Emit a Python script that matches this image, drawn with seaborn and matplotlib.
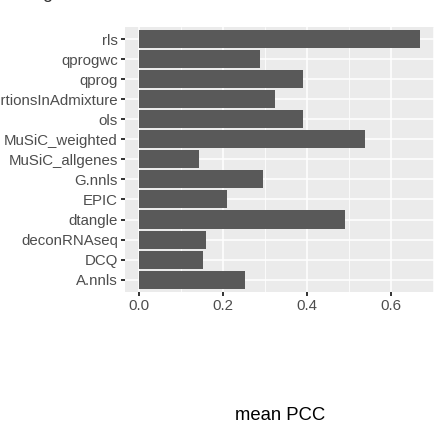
import matplotlib
matplotlib.use("Agg")
import matplotlib.pyplot as plt
import seaborn as sns
import pandas as pd
from matplotlib.ticker import MultipleLocator

methods = ["rls", "qprogwc", "qprog", "proportionsInAdmixture", "ols",
           "MuSiC_weighted", "MuSiC_allgenes", "G.nnls", "EPIC", "dtangle",
           "deconRNAseq", "DCQ", "A.nnls"]
mean_pcc = [0.671, 0.289, 0.392, 0.325, 0.392,
            0.538, 0.143, 0.296, 0.210, 0.491,
            0.159, 0.152, 0.253]
x_ticks = [0.0, 0.2, 0.4, 0.6]
x_tick_labels = ["0.0", "0.2", "0.4", "0.6"]
x_title = "mean PCC"

sns.set_theme(style="darkgrid")
plt.rcParams["font.family"] = ["Liberation Sans", "DejaVu Sans"]

W, H = 434, 433
fig = plt.figure(figsize=(W / 100, H / 100), dpi=100)
fig.patch.set_facecolor("white")

zero_px = 139.2
scale = 419.0
xmax = max(mean_pcc) * 1.05
xmin = -max(mean_pcc) * 0.05
left_px = zero_px + xmin * scale
right_px = zero_px + xmax * scale
top_px, bot_px = 27.0, 291.7
ax = fig.add_axes([left_px / W, (H - bot_px) / H,
                   (right_px - left_px) / W, (bot_px - top_px) / H])

df = pd.DataFrame({"method": methods, "pcc": mean_pcc})
sns.barplot(data=df, x="pcc", y="method", orient="h", color="#595959",
            saturation=1, width=0.9, ax=ax, edgecolor="none", linewidth=0)

ax.set_facecolor("#EBEBEB")
ax.set_xlim(xmin, xmax)
n = len(methods)
ax.set_ylim(n - 1 + 0.6, -0.6)
ax.set_xticks(x_ticks)
ax.set_xticklabels(x_tick_labels)
ax.xaxis.set_minor_locator(MultipleLocator(0.1))
ax.grid(which="major", color="white", linewidth=1.1)
ax.grid(which="minor", axis="x", color="white", linewidth=0.55)
ax.set_axisbelow(True)
for s in ax.spines.values():
    s.set_visible(False)

ax.tick_params(axis="x", which="major", bottom=True)
ax.tick_params(axis="y", which="major", left=True)
ax.tick_params(axis="both", which="major", length=3.0, width=1.4,
               color="#333333", labelcolor="#4D4D4D", labelsize=10.8, pad=2.2)
ax.tick_params(axis="x", which="minor", length=0, bottom=False)
ax.set_ylabel("")
ax.set_xlabel(x_title, fontsize=13.3, color="black", labelpad=68)

fig.text(0.098, 1.0 + 1.5 / H, "g", fontsize=13, color="#333333",
         va="baseline", ha="left")

fig.savefig("out.png", dpi=100, facecolor="white")
